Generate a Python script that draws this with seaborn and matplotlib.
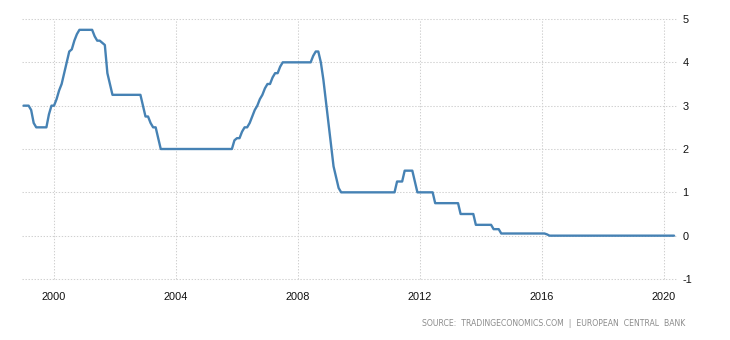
import matplotlib
matplotlib.use("Agg")
import matplotlib.pyplot as plt
import seaborn as sns
import pandas as pd

# ECB main refinancing rate (%), monthly readings, Jan 1999 - May 2020
rate_1999 = [3.0, 3.0, 3.0, 2.9, 2.6, 2.5, 2.5, 2.5, 2.5, 2.5, 2.8, 3.0]
rate_2000 = [3.0, 3.15, 3.35, 3.5, 3.75, 4.0, 4.25, 4.3, 4.5, 4.65, 4.75, 4.75]
rate_2001 = [4.75, 4.75, 4.75, 4.75, 4.6, 4.5, 4.5, 4.45, 4.4, 3.75, 3.5, 3.25]
rate_2002 = [3.25, 3.25, 3.25, 3.25, 3.25, 3.25, 3.25, 3.25, 3.25, 3.25, 3.25, 3.0]
rate_2003 = [2.75, 2.75, 2.6, 2.5, 2.5, 2.25, 2.0, 2.0, 2.0, 2.0, 2.0, 2.0]
rate_2004 = [2.0, 2.0, 2.0, 2.0, 2.0, 2.0, 2.0, 2.0, 2.0, 2.0, 2.0, 2.0]
rate_2005 = [2.0, 2.0, 2.0, 2.0, 2.0, 2.0, 2.0, 2.0, 2.0, 2.0, 2.0, 2.2]
rate_2006 = [2.25, 2.25, 2.4, 2.5, 2.5, 2.6, 2.75, 2.9, 3.0, 3.15, 3.25, 3.4]
rate_2007 = [3.5, 3.5, 3.65, 3.75, 3.75, 3.9, 4.0, 4.0, 4.0, 4.0, 4.0, 4.0]
rate_2008 = [4.0, 4.0, 4.0, 4.0, 4.0, 4.0, 4.15, 4.25, 4.25, 4.0, 3.6, 3.1]
rate_2009 = [2.6, 2.1, 1.6, 1.35, 1.1, 1.0, 1.0, 1.0, 1.0, 1.0, 1.0, 1.0]
rate_2010 = [1.0, 1.0, 1.0, 1.0, 1.0, 1.0, 1.0, 1.0, 1.0, 1.0, 1.0, 1.0]
rate_2011 = [1.0, 1.0, 1.0, 1.25, 1.25, 1.25, 1.5, 1.5, 1.5, 1.5, 1.25, 1.0]
rate_2012 = [1.0, 1.0, 1.0, 1.0, 1.0, 1.0, 0.75, 0.75, 0.75, 0.75, 0.75, 0.75]
rate_2013 = [0.75, 0.75, 0.75, 0.75, 0.5, 0.5, 0.5, 0.5, 0.5, 0.5, 0.25, 0.25]
rate_2014 = [0.25, 0.25, 0.25, 0.25, 0.25, 0.15, 0.15, 0.15, 0.05, 0.05, 0.05, 0.05]
rate_2015 = [0.05, 0.05, 0.05, 0.05, 0.05, 0.05, 0.05, 0.05, 0.05, 0.05, 0.05, 0.05]
rate_2016 = [0.05, 0.05, 0.03, 0.0, 0.0, 0.0, 0.0, 0.0, 0.0, 0.0, 0.0, 0.0]
rate_2017 = [0.0, 0.0, 0.0, 0.0, 0.0, 0.0, 0.0, 0.0, 0.0, 0.0, 0.0, 0.0]
rate_2018 = [0.0, 0.0, 0.0, 0.0, 0.0, 0.0, 0.0, 0.0, 0.0, 0.0, 0.0, 0.0]
rate_2019 = [0.0, 0.0, 0.0, 0.0, 0.0, 0.0, 0.0, 0.0, 0.0, 0.0, 0.0, 0.0]
rate_2020 = [0.0, 0.0, 0.0, 0.0, 0.0]

years = list(range(1999, 2021))
yearly = [rate_1999, rate_2000, rate_2001, rate_2002, rate_2003, rate_2004,
          rate_2005, rate_2006, rate_2007, rate_2008, rate_2009, rate_2010,
          rate_2011, rate_2012, rate_2013, rate_2014, rate_2015, rate_2016,
          rate_2017, rate_2018, rate_2019, rate_2020]

x_ticks = [2000, 2004, 2008, 2012, 2016, 2020]
x_tick_labels = ["2000", "2004", "2008", "2012", "2016", "2020"]
y_ticks = [-1, 0, 1, 2, 3, 4, 5]
y_tick_labels = ["-1", "0", "1", "2", "3", "4", "5"]
source_text = "SOURCE:  TRADINGECONOMICS.COM  |  EUROPEAN  CENTRAL  BANK"

rows = []
for yr, vals in zip(years, yearly):
    for m, v in enumerate(vals):
        rows.append({"t": yr + m / 12.0, "rate": v})
df = pd.DataFrame(rows)

sns.set_style("white")
plt.rcParams["font.family"] = ["Liberation Sans", "DejaVu Sans"]

W, H = 730, 340
fig = plt.figure(figsize=(W / 100, H / 100), dpi=100)
ax = fig.add_axes([22 / W, 61 / H, 655 / W, 260 / H])

sns.lineplot(data=df, x="t", y="rate", ax=ax, color="#4682b4",
             linewidth=1.7, zorder=3)

ax.set_xlim(1998.95, 2020.43)
ax.set_ylim(-1, 5)
ax.set_xticks(x_ticks)
ax.set_xticklabels(x_tick_labels)
ax.yaxis.tick_right()
ax.set_yticks(y_ticks)
ax.set_yticklabels(y_tick_labels)
ax.set_xlabel("")
ax.set_ylabel("")

for s in ax.spines.values():
    s.set_visible(False)

ax.grid(True, linestyle=(0, (1.3, 1.6)), color="#d0d0d0", linewidth=0.75)
for gl in ax.get_xgridlines() + ax.get_ygridlines():
    gl.set_clip_on(False)

ax.tick_params(axis="x", length=3, width=0.75, color="#d0d0d0", pad=6,
               labelsize=7.9, labelcolor="#111111")
ax.tick_params(axis="y", length=0, pad=4, labelsize=7.9, labelcolor="#111111")

fig.text(685 / W, 1 - 324 / H, source_text, ha="right", va="center",
         fontsize=5.6, color="#8c8c8c", family=["DejaVu Sans"])

fig.savefig("out.png", dpi=100)
